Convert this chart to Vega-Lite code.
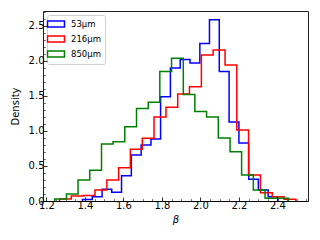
{
  "$schema": "https://vega.github.io/schema/vega-lite/v6.json",
  "width": 265,
  "height": 190,
  "autosize": {"type": "none"},
  "padding": {"left": 43, "top": 11, "right": 12, "bottom": 39},
  "background": "white",
  "config": {
    "view": {"stroke": "#222", "strokeWidth": 1},
    "font": "DejaVu Sans",
    "axis": {"labelFont": "DejaVu Sans", "titleFont": "DejaVu Sans", "labelColor": "black", "titleColor": "black", "grid": false, "tickColor": "black", "domainColor": "black", "titleFontWeight": "normal", "labelFontSize": 10, "titleFontSize": 10}
  },
  "data": {"values": [
    {"s":"53μm","x":1.387,"d":0},{"s":"53μm","x":1.387,"d":0.02},{"s":"53μm","x":1.438,"d":0.06},{"s":"53μm","x":1.489,"d":0.167},{"s":"53μm","x":1.539,"d":0.124},{"s":"53μm","x":1.590,"d":0.36},{"s":"53μm","x":1.641,"d":0.657},{"s":"53μm","x":1.692,"d":0.80},{"s":"53μm","x":1.743,"d":0.886},{"s":"53μm","x":1.793,"d":1.49},{"s":"53μm","x":1.844,"d":1.90},{"s":"53μm","x":1.895,"d":2.02},{"s":"53μm","x":1.946,"d":1.97},{"s":"53μm","x":1.997,"d":2.25},{"s":"53μm","x":2.047,"d":2.59},{"s":"53μm","x":2.098,"d":1.85},{"s":"53μm","x":2.149,"d":1.13},{"s":"53μm","x":2.200,"d":0.83},{"s":"53μm","x":2.251,"d":0.31},{"s":"53μm","x":2.301,"d":0.157},{"s":"53μm","x":2.352,"d":0.062},{"s":"53μm","x":2.403,"d":0},
    {"s":"216μm","x":1.268,"d":0},{"s":"216μm","x":1.268,"d":0.03},{"s":"216μm","x":1.329,"d":0.07},{"s":"216μm","x":1.391,"d":0.08},{"s":"216μm","x":1.452,"d":0.157},{"s":"216μm","x":1.514,"d":0.30},{"s":"216μm","x":1.575,"d":0.476},{"s":"216μm","x":1.636,"d":0.738},{"s":"216μm","x":1.698,"d":0.896},{"s":"216μm","x":1.759,"d":1.2},{"s":"216μm","x":1.821,"d":1.34},{"s":"216μm","x":1.882,"d":1.529},{"s":"216μm","x":1.943,"d":1.633},{"s":"216μm","x":2.005,"d":2.086},{"s":"216μm","x":2.066,"d":2.157},{"s":"216μm","x":2.128,"d":1.943},{"s":"216μm","x":2.189,"d":1.014},{"s":"216μm","x":2.250,"d":0.371},{"s":"216μm","x":2.312,"d":0.119},{"s":"216μm","x":2.373,"d":0.062},{"s":"216μm","x":2.435,"d":0.024},{"s":"216μm","x":2.496,"d":0},
    {"s":"850μm","x":1.243,"d":0},{"s":"850μm","x":1.243,"d":0.03},{"s":"850μm","x":1.304,"d":0.1},{"s":"850μm","x":1.364,"d":0.3},{"s":"850μm","x":1.425,"d":0.44},{"s":"850μm","x":1.486,"d":0.814},{"s":"850μm","x":1.546,"d":0.847},{"s":"850μm","x":1.607,"d":1.06},{"s":"850μm","x":1.668,"d":1.32},{"s":"850μm","x":1.729,"d":1.41},{"s":"850μm","x":1.789,"d":1.85},{"s":"850μm","x":1.850,"d":2.04},{"s":"850μm","x":1.911,"d":1.52},{"s":"850μm","x":1.971,"d":1.28},{"s":"850μm","x":2.032,"d":1.20},{"s":"850μm","x":2.093,"d":0.90},{"s":"850μm","x":2.154,"d":0.704},{"s":"850μm","x":2.214,"d":0.371},{"s":"850μm","x":2.275,"d":0.157},{"s":"850μm","x":2.336,"d":0.04},{"s":"850μm","x":2.396,"d":0.04},{"s":"850μm","x":2.457,"d":0}
  ]},
  "layer": [
    {
      "mark": {"type": "line", "interpolate": "step-after", "strokeWidth": 1.5},
      "encoding": {
        "x": {"field": "x", "type": "quantitative", "scale": {"domain": [1.182, 2.559], "nice": false, "zero": false},
          "axis": {"orient": "bottom", "values": [1.2,1.4,1.6,1.8,2.0,2.2,2.4], "format": ".1f", "tickSize": -4, "tickWidth": 0.8, "labelPadding": 3, "domain": true, "zindex": 1, "title": "β", "titleFontStyle": "italic", "titlePadding": 4, "labelFlush": false}},
        "y": {"field": "d", "type": "quantitative", "scale": {"domain": [0, 2.714], "nice": false},
          "axis": {"orient": "left", "values": [0,0.5,1.0,1.5,2.0,2.5], "format": ".1f", "tickSize": -4, "tickWidth": 0.8, "labelPadding": 3, "domain": false, "zindex": 1, "title": "Density", "titlePadding": 8, "labelFlush": false}},
        "color": {"field": "s", "type": "nominal", "scale": {"domain": ["53μm","216μm","850μm"], "range": ["#0000ff","#ff0000","#008000"]},
          "legend": {"orient": "top-left", "offset": 4, "title": null, "symbolType": "M-2,-0.7L2,-0.7L2,0.7L-2,0.7Z", "symbolSize": 72, "symbolStrokeWidth": 1.5, "symbolFillColor": "transparent", "labelFontSize": 8.5, "labelFont": "DejaVu Sans", "labelColor": "black", "labelOffset": 10, "padding": 4, "rowPadding": 3, "strokeColor": "#d0d0d0", "fillColor": "white", "cornerRadius": 2}}
      }
    },
    {
      "mark": {"type": "point", "opacity": 0},
      "encoding": {
        "x": {"field": "x", "type": "quantitative",
          "axis": {"orient": "bottom", "values": [1.25,1.3,1.35,1.45,1.5,1.55,1.65,1.7,1.75,1.85,1.9,1.95,2.05,2.1,2.15,2.25,2.3,2.35,2.45,2.5,2.55], "labels": false, "domain": false, "tickSize": -2.3, "tickWidth": 0.6, "title": null}},
        "y": {"field": "d", "type": "quantitative",
          "axis": {"orient": "left", "values": [0.1,0.2,0.3,0.4,0.6,0.7,0.8,0.9,1.1,1.2,1.3,1.4,1.6,1.7,1.8,1.9,2.1,2.2,2.3,2.4,2.6,2.7], "labels": false, "domain": false, "tickSize": -2.3, "tickWidth": 0.6, "title": null}}
      }
    }
  ],
  "resolve": {"axis": {"x": "independent", "y": "independent"}}
}
